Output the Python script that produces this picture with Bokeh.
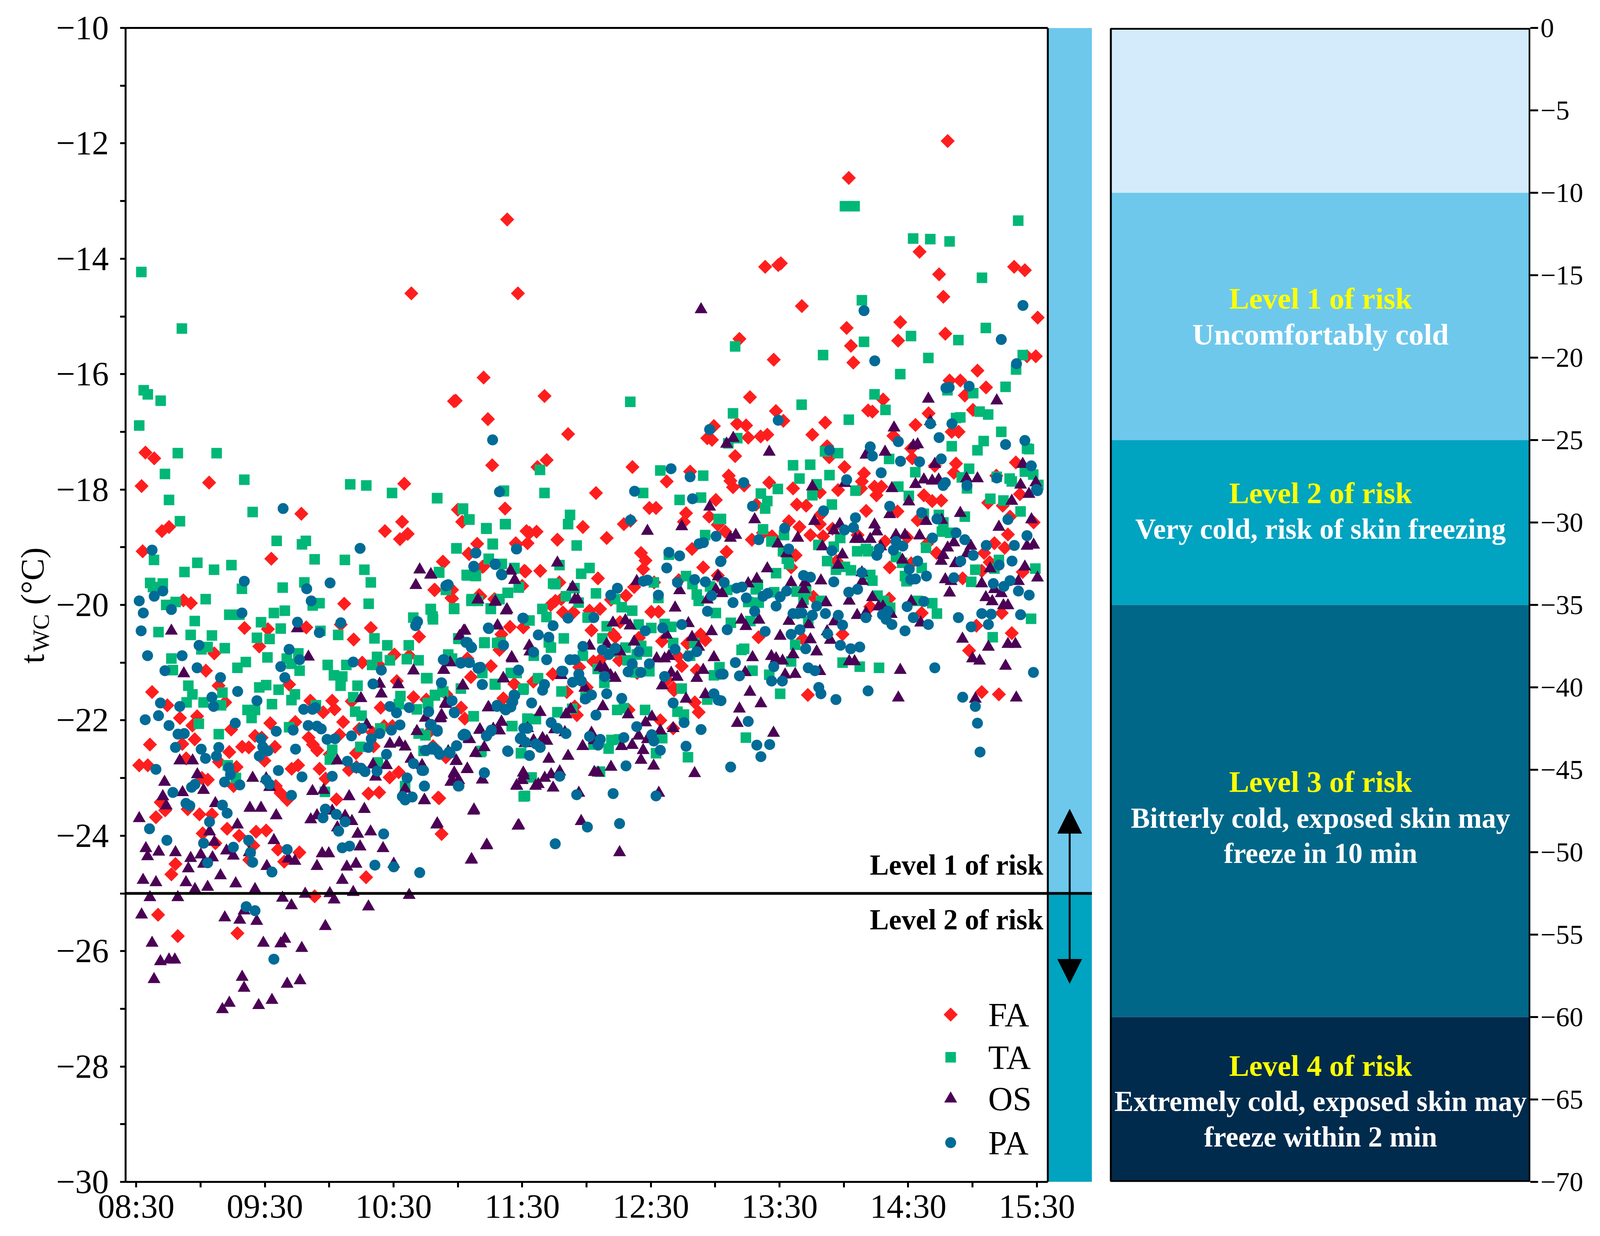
from math import pi
from bokeh.plotting import figure
from bokeh.layouts import row
from bokeh.embed import file_html
from bokeh.resources import INLINE
from bokeh.core.properties import value
from bokeh.models import (ColumnDataSource, FixedTicker, LinearAxis, Range1d, Arrow, NormalHead)

# readings: (minutes after 08:30, wind-chill temperature in deg C)
FA = [(128.3,-14.6),(173,-13.32),(178,-14.6),(162,-16.06),(149,-16.46),(164,-16.78),(166,-17.58),(172,-18.33),(125,-17.9),(77,-18.42),(34,-17.88),(4.3,-17.36),(8.4,-17.46),(2.5,-17.94),(116,-18.72),(124,-18.56),(123,-18.86),(126.6,-18.77),(15.3,-18.65),(12,-18.72),(3,-19.07),(63,-19.2),(150,-18.35),(152,-18.56),(159,-18.94),(155,-19.11),(143,-19.25),(162,-19.33),(177,-18.93),(182,-18.72),(181,-19.41),(139,-19.74),(147,-19.88),(160,-19.83),(167,-19.9),(22,-19.92),(25.5,-19.97),(97,-19.98),
(378.4,-11.96),(332.3,-12.6),(365.3,-13.88),(293.3,-14.14),(299.4,-14.11),(300.6,-14.08),(374.4,-14.27),(409.4,-14.14),(414.4,-14.2),(376.4,-14.66),(310.4,-14.82),(420.4,-15.02),(356.3,-15.1),(331.3,-15.2),(377.3,-15.3),(281.3,-15.39),(355.3,-15.42),(333.3,-15.51),(297.3,-15.75),(334.4,-15.8),(415.4,-15.69),(419.5,-15.69),(392.3,-15.94),(379.3,-16.11),(384.3,-16.11),(396.3,-16.23),(386.4,-16.37),(286.2,-16.4),(348.3,-16.44),(298.3,-16.64),(301.8,-16.81),(341.3,-16.63),(343.3,-16.65),(369.5,-16.68),(390.2,-16.62),(280.2,-16.86),(284.4,-16.89),(321.3,-16.84),(363.4,-16.88),(285.4,-17.1),(291.2,-17.08),(294.3,-17.05),(315.3,-17.05),(353.1,-17.07),(380.3,-17.0),(383.5,-17.0),
(279.3,-17.42),(322.2,-17.25),(323.2,-17.44),(330.3,-17.61),(339.4,-17.72),(338.4,-17.86),(338,-17.98),(344.3,-17.95),(347.5,-17.95),(345.2,-18.1),(276.3,-17.76),(277.1,-17.85),(278.3,-17.96),(283.5,-17.93),(295.2,-17.88),(306.3,-17.98),(327.3,-18.01),(318.8,-18.05),(308.1,-18.26),(312.4,-18.28),(289.1,-18.26),(340.4,-18.37),(355,-18.38),(361.9,-17.46),(361.4,-17.29),(372.4,-17.59),(382.3,-17.55),(381.3,-17.71),(410.2,-17.53),(401.1,-17.76),(367.3,-18.1),(371.2,-18.2),(375.4,-18.19),(412.1,-18.08),(397.3,-18.23),(404.1,-18.28),(407.5,-18.47),(418.5,-18.57),(364.4,-18.53),(304.4,-18.55),(309.3,-18.65),(319.3,-18.43),(318.8,-18.6),(314.4,-18.79),(320.3,-18.81),(324.7,-18.68),(336.4,-18.79),(287.1,-18.87),(292.3,-18.75),(296.5,-18.81),(274.7,-18.73),(307.5,-19.14),(275.3,-19.08),(349.2,-18.9),(359.5,-18.83),(368.8,-18.94),(373.2,-19.1),(400.2,-18.93),(405,-19.01),(406.5,-18.78),(395.4,-19.1),(398,-19.26),(305.4,-19.35),(351.4,-19.35),(361.4,-19.28),(326.6,-19.24),(413.4,-19.43),(394.3,-19.41),(385.4,-19.54),(315.8,-19.86),(351.1,-19.89),(342.3,-20.03),(366.3,-20.14),(403.6,-20.14),(391.8,-20.36),(290.2,-20.56),(310.9,-20.59),(329.4,-20.51),(408.3,-20.49),(388.4,-20.79),(313.2,-21.56),(394.3,-21.51),(402.3,-21.55),
(148.2,-16.47),(201.4,-17.04),(269.4,-16.9),(266.3,-17.11),(268.5,-17.14),(191.4,-17.49),(187.1,-17.61),(231.4,-17.61),(258.3,-17.69),(247.4,-17.86),(214.4,-18.06),(270.3,-18.18),(239.3,-18.32),(242.4,-18.32),(190.4,-16.38),(256.4,-18.41),(267.2,-18.47),(255.4,-18.56),(271.2,-18.61),(208.3,-18.65),(183.4,-18.75),(186.7,-18.73),(227.4,-18.6),(230.5,-18.54),(196.4,-18.87),(219.4,-18.84),(177.4,-18.95),(182.5,-18.93),(259.2,-19.03),(155.2,-19.12),(235.4,-19.1),(237.5,-19.23),(236.4,-19.38),(264.4,-19.35),(143.3,-19.26),(161.4,-19.34),(181.5,-19.42),(188.4,-19.41),(271.2,-19.49),(215.3,-19.54),(253,-19.57),(241.5,-19.61),(197.3,-19.61),(232.2,-19.69),(180,-19.67),(139.3,-19.74),(147.3,-19.74),(228.4,-19.84),(160.5,-19.85),(147.3,-19.89),(167.6,-19.91),(193.3,-20.0),(195.5,-19.93),(198.2,-19.9),(221.4,-19.91),(199,-20.13),(203.9,-20.13),(211.4,-20.1),(216.3,-20.07),(240.2,-20.12),(243.6,-20.12),(225.6,-20.3),(174.3,-20.38),(180.5,-20.39),(212.3,-20.44),(222.5,-20.51),(223.4,-20.56),(170.3,-20.51),(234.4,-20.57),(263.2,-20.51),(265.4,-20.61),(245.2,-20.63),(257,-20.67),(169.4,-20.78),(154.4,-20.93),(165.4,-21.06),(156.1,-21.25),(176.3,-21.37),(185.2,-21.33),(194.2,-21.2),(206.6,-21.08),(213.2,-20.98),(216.3,-20.95),(225.2,-20.96),(252.6,-20.89),(254.4,-21.06),(261.4,-21.13),(233.6,-21.18),(247.7,-21.3),(250.6,-21.44),
(144.6,-21.55),(135.3,-21.64),(171.2,-21.62),(151.5,-21.78),(153.2,-21.97),(200.8,-21.51),(210.1,-21.43),(204.5,-21.76),(205.5,-21.91),(229.6,-21.82),(250.8,-21.48),(260.5,-21.69),(262.3,-21.86),(244.4,-22.0),(250.4,-22.14),(137.1,-22.19),(138.4,-22.45),(144.4,-22.64),(141.3,-23.35),(142.4,-23.97),
(50.5,-20.4),(61.4,-20.42),(79.3,-20.39),(95.4,-20.34),(109.4,-20.4),(101.4,-20.6),(131.9,-20.55),(57.4,-20.72),(36.4,-20.84),(120.4,-20.86),(127.3,-20.88),(32.5,-21.14),(105.4,-21.0),(112.9,-21.03),(121.5,-21.32),(7.4,-21.51),(38.4,-21.4),(71.3,-21.38),(129.3,-21.6),(81.2,-21.66),(91.4,-21.66),(41.5,-21.69),(100.5,-21.67),(14.5,-21.74),(114,-21.78),(92.5,-21.81),(87.2,-21.86),(28.4,-21.93),(20.4,-21.96),(96.5,-22.03),(26.2,-22.09),(62.5,-22.05),(74.2,-22.03),(44.3,-22.16),(55.4,-22.27),(58.5,-22.3),(80.4,-22.3),(94.8,-22.25),(104,-22.15),(115.6,-22.1),(119.5,-22.1),(110.2,-22.21),(6.4,-22.42),(21.5,-22.41),(27.3,-22.33),(82.4,-22.42),(49.4,-22.46),(52.5,-22.47),(43.4,-22.55),(64.7,-22.46),(84.4,-22.52),(90.3,-22.59),(102.5,-22.57),(110.7,-22.45),(23.3,-22.66),(1.4,-22.78),(5.4,-22.78),(38.6,-22.72),(46.8,-22.81),(59.8,-22.7),(72.5,-22.84),(75.5,-22.78),(85.5,-22.84),(99.2,-22.86),(102.7,-22.81),(118.2,-22.99),(122.4,-22.9),(88.3,-23.01),(30.6,-23.0),(33.4,-23.03),(65.1,-23.14),(67.3,-23.26),(70.4,-23.38),(45.4,-23.14),(108.3,-23.27),(113.3,-23.25),(93.4,-23.37),(11.4,-23.42),
(13.5,-23.56),(9.2,-23.68),(24,-23.54),(29.5,-23.63),(35.3,-23.63),(31,-23.96),(42.4,-23.88),(48,-24),(36.9,-24.13),(55.9,-23.93),(60.6,-23.91),(18.3,-24.49),(16.4,-24.67),(54.6,-24.17),(66.1,-24.24),(76.1,-24.29),(52.7,-24.42),(69,-24.45),(107.2,-24.72),(140.8,-23.34),(83.2,-25.05),(10.2,-25.37),(19.4,-25.74),(47.2,-25.69)]

TA = [(2.4,-14.23),(21.3,-15.21),(3.5,-16.28),(5.4,-16.35),(11.4,-16.46),(1.4,-16.89),(19.4,-17.37),(37.5,-17.37),(50.4,-17.83),(13.4,-17.73),(15.3,-18.18),(20.4,-18.55),(54.3,-18.39),(99.8,-17.91),(107.3,-17.93),(119.3,-18.06),(140.3,-18.15),(152.4,-18.33),(155.2,-18.52),(163.2,-18.67),(172,-18.6),(171.5,-18.02),(166.2,-18.94),(65.5,-18.89),(79.1,-18.89),(77.3,-18.95),(83.2,-19.21),(97.3,-19.22),(106.4,-19.39),(109.4,-19.61),(149.4,-19.02),(141.2,-19.43),(164.4,-19.21),(170,-19.29),(176.2,-19.37),(154.1,-19.48),(158.4,-19.49),(8.3,-19.22),(28.5,-19.27),(36.3,-19.39),(44.4,-19.31),(22.5,-19.43),(6.5,-19.62),(12.4,-19.63),(7.8,-19.69),(49.3,-19.72),(68.3,-19.7),(78.4,-19.61),(14,-20),(18.4,-19.95),(32.4,-19.9),(85.5,-19.97),(82.3,-20.01),(108.4,-19.98),(137.3,-20.07),(148.2,-20.06),(156.3,-19.93),(165.3,-20.06),(168.9,-19.9),(173.2,-19.79),(178.4,-19.69),(129.2,-20.22),(138.2,-20.2),
(43.4,-20.17),(48.1,-20.17),(27.3,-20.28),(58.2,-20.3),(64.2,-20.14),(69.3,-20.1),(10.4,-20.47),(25.4,-20.52),(35.3,-20.53),(67.4,-20.41),(85.9,-20.45),(94.2,-20.52),(56.3,-20.57),(62.2,-20.59),(33.3,-20.73),(30.4,-20.77),(41.3,-20.75),(111.1,-20.58),(127.1,-20.7),(117.1,-20.7),(61.2,-20.91),(70.2,-20.93),(75.6,-20.84),(16.4,-20.93),(51.1,-20.99),(47.2,-21.09),(72.4,-21.02),(76.2,-21.14),(17.1,-21.13),(89.3,-21.04),(98,-21.04),(118.3,-20.96),(126.2,-20.94),(110,-21.04),(112.3,-20.9),(131.7,-20.96),(92.2,-21.22),(96.1,-21.24),(135.2,-21.27),(95.3,-21.4),(103.2,-21.4),(24.3,-21.4),(26.2,-21.55),(57.4,-21.43),(60.6,-21.39),(66.4,-21.47),(40.2,-21.52),(74,-21.55),(101.2,-21.6),(123.2,-21.58),(139.3,-21.56),(143.2,-21.5),(31.4,-21.69),(23.5,-21.69),(39.6,-21.74),(63.3,-21.72),(72.4,-21.65),(83.8,-21.74),(122.5,-21.72),(136,-21.7),(51.9,-21.82),(53.8,-21.96),(55.4,-21.82),(102.1,-21.85),(105.1,-21.92),(130.9,-21.81),(29.2,-22.06),(71.3,-22.12),(113.8,-22.14),(157.3,-21.93),(131.7,-22.23),(38.5,-22.24),(104.5,-22.46),(91.4,-22.51),(134,-22.53),(161,-22.53),(90.3,-22.68),(112.7,-22.73),(42.7,-22.78),(46.5,-23),(88,-23.24),(125.4,-23.14),(175.1,-22.1),(180.7,-23.32),(179.5,-22.57),(180.7,-21.45),(167.2,-21.37),(150.2,-20.58),(162.5,-20.65),(169.9,-20.65),
(230.4,-16.48),(244.4,-17.67),(264.4,-17.76),(188.3,-17.66),(236.4,-18.06),(253.4,-18.18),(263.4,-18.14),(140.4,-18.15),(171.3,-18.03),(190.4,-18.06),(152.3,-18.34),(155.4,-18.52),(202.3,-18.44),(201.4,-18.6),(172.3,-18.6),(163.4,-18.68),(271.6,-18.51),(265.3,-18.79),(166.3,-18.95),(205.4,-18.97),(149.3,-19.02),(164.4,-19.2),(248.4,-19.13),(197.4,-19.31),(170.5,-19.29),(176.4,-19.36),(211.4,-19.36),(207.5,-19.46),(256.4,-19.5),(141.3,-19.44),(154.4,-19.49),(158.3,-19.5),(241.4,-19.61),(259.4,-19.64),(267.6,-19.68),(194.4,-19.63),(195.5,-19.64),(204.4,-19.71),(178.4,-19.7),(144.4,-19.74),(173.4,-19.79),(214.4,-19.8),(200.4,-19.85),(223.4,-19.9),(261.4,-19.82),(262.3,-19.93),(243.5,-19.88),(169.4,-19.9),(156.4,-19.9),(159.4,-19.93),(206.3,-19.96),(226.4,-20.04),(231.3,-20.1),(137.4,-20.08),(148.3,-20.07),(165.4,-20.07),(138.4,-20.25),(189.4,-20.07),(191.3,-20.21),(183.4,-20.27),(210.5,-20.22),(270.3,-20.14),(246.4,-20.33),(249.5,-20.38),(234.3,-20.34),(240.2,-20.4),(219.4,-20.37),(150.5,-20.59),(162.3,-20.66),(168.3,-20.66),(199.4,-20.58),(217.4,-20.58),(250.4,-20.66),(235.5,-20.71),(228.2,-20.74),(260.3,-20.66),(238.2,-20.81),(192.4,-20.65),(193.4,-20.74),(145.5,-20.86),(147.3,-20.93),(208.3,-20.88),(233.4,-20.86),(185.4,-20.88),(222.5,-20.81),(229.1,-20.96),(258.3,-20.88),(161.4,-21.18),(135.8,-21.27),(174.7,-21.18),(177.4,-21.18),(215.2,-21.11),(218.3,-21.35),(269.4,-21.22),(232.7,-21.17),(239.3,-21.15),(167.5,-21.38),(187.4,-21.27),(151.4,-21.45),(254.4,-21.45),(272,-21.08),
(142.8,-21.51),(139.3,-21.57),(136.2,-21.72),(180.4,-21.47),(198.3,-21.5),(209.5,-21.6),(266.3,-21.64),(196.4,-21.86),(203.3,-21.8),(224.3,-21.82),(227.4,-21.79),(237.3,-21.82),(157.4,-21.93),(182.4,-21.97),(186.4,-21.98),(252.4,-21.85),(255.4,-21.9),(175.4,-22.1),(221.6,-22.34),(225.2,-22.33),(245.3,-22.31),(220.3,-22.49),(213.2,-22.42),(160.5,-22.55),(179.4,-22.57),(242.4,-22.57),(257.3,-22.64),(216.3,-22.89),(184.4,-22.99),(181.3,-23.31),(134.9,-22.26),
(330.5,-13.09),(335,-13.09),(411.3,-13.34),(362.3,-13.65),(370.3,-13.66),(379.3,-13.7),(394.4,-14.33),(338.4,-14.72),(396.2,-15.2),(361.3,-15.34),(383.4,-15.41),(339.4,-15.44),(279.3,-15.52),(320.3,-15.67),(369.4,-15.72),(413.4,-15.67),(356.3,-16),(410.3,-15.92),(405.4,-16.22),(344.3,-16.35),(378.3,-16.28),(390.3,-16.33),(310.3,-16.53),(278.3,-16.68),(349.4,-16.62),(393.3,-16.65),(397.3,-16.7),(382.3,-16.76),(384.3,-16.75),(332.3,-16.79),(403.4,-17),
(276.1,-17.2),(280.3,-17.11),(380.3,-17.25),(395.2,-17.16),(392.3,-17.32),(415.4,-17.29),(416.3,-17.3),(321.2,-17.34),(327.3,-17.37),(351.1,-17.47),(306.3,-17.58),(314.3,-17.57),(388.4,-17.64),(363.3,-17.7),(323.3,-17.75),(309.3,-17.81),(385,-17.79),(414.4,-17.69),(418.3,-17.74),(401.3,-17.78),(317.3,-17.91),(355.4,-17.95),(407.3,-17.81),(408.3,-17.86),(420.7,-17.92),(299.2,-17.99),(335.4,-18.02),(291.3,-18.07),(315.3,-18.1),(387.4,-17.98),(360.3,-18.11),(294.3,-18.2),(324.4,-18.26),(398.3,-18.16),(404.4,-18.19),(293.3,-18.33),(412.4,-18.38),(367.3,-18.42),(374.3,-18.44),(386.4,-18.47),(272.7,-18.51),(376.4,-18.57),(292.3,-18.69),(375.7,-18.73),(379.6,-18.75),(302.1,-18.79),(328.3,-18.84),(296.2,-18.9),(318.1,-18.96),(325.3,-18.99),(368.3,-19.01),(340.3,-19.03),(336.2,-19.07),(341.3,-19.07),(354.3,-19.17),(301.6,-19.07),(303.4,-19.2),(304.4,-19.29),(322.2,-19.24),(366.3,-19.36),(330.5,-19.34),(333.3,-19.4),(402.3,-19.22),(326.3,-19.39),(391.3,-19.39),(357.2,-19.27),(419.3,-19.37),(400.2,-19.37),(298.4,-19.45),(342.3,-19.48),(358.5,-19.5),(343.3,-19.58),(359.2,-19.59),(389.4,-19.6),(275.6,-19.74),(288.9,-19.73),(289.9,-19.65),(297.5,-19.78),(308,-19.77),(312.4,-19.76),(345.7,-19.84),(311.2,-19.91),(319.3,-19.93),(348.7,-19.93),(364.4,-19.93),(371.2,-19.97),(285.4,-19.95),(290.3,-19.96),(351.6,-20.05),(373.4,-20.15),(277.3,-20.31),(286.4,-20.28),(417.3,-20.24),(313.4,-20.29),(283.5,-20.76),(282.3,-20.78),(399.4,-20.56),(307.3,-20.69),(305.4,-20.98),(329.4,-21.0),(337.4,-21.07),(346.4,-21.09),(287.4,-21.14),(295.2,-21.21),(300.3,-21.54),(284.3,-22.3)]

OS = [(16.4,-20.45),(22.2,-21.19),(80.3,-20.9),(75.1,-20.41),(113.5,-21.37),(114.3,-21.54),(122.2,-21.38),(129.3,-21.14),(104.8,-21.62),(143.5,-21.13),(152.2,-21.4),(152.7,-20.45),(168.5,-20.36),(175.1,-20.91),(171.2,-21.27),(144.3,-21.7),(142,-21.96),(164.1,-21.78),(134.8,-21.96),(170.4,-22.03),(107.5,-22.08),(160.1,-22.17),(130.9,-22.19),(168.8,-22.17),(118.3,-22.41),(122.7,-22.39),(125.4,-22.46),(155.1,-22.32),(158.2,-22.57),(93.8,-22.7),(110.4,-22.77),(116.7,-22.78),(128.1,-22.67),(149.1,-22.71),(154.3,-22.85),(133.3,-22.78),(20.3,-22.7),(26.3,-22.7),(28.5,-22.94),(54.3,-23),(13.2,-23.07),(60.6,-23.01),(62.2,-23.16),(148.3,-22.93),(161.4,-23.03),(180.7,-22.96),(146.7,-23.07),(111.6,-22.98),(21.6,-23.25),(31.4,-23.21),(12.4,-23.32),(14,-23.48),(82.2,-23.23),(87.4,-23.21),(125.4,-23.19),(99.3,-23.32),(134.4,-23.39),(177.5,-23.14),(36.9,-23.44),(53,-23.52),(58.2,-23.52),(106.4,-23.54),(91.4,-23.57),(157.3,-23.57),(65.3,-23.65),(1.4,-23.7),(81.4,-23.72),(84.3,-23.65),(97.4,-23.66),(100.6,-23.75),(93.8,-23.86),(47.2,-23.81),(34.2,-23.93),(140.1,-23.81),(178,-23.83),(103.3,-23.97),(109.3,-23.93),(64.2,-24.08),(163.3,-24.17),(36.4,-24.11),(4.5,-24.22),(10.5,-24.28),(18.3,-24.29),(5.3,-24.36),(104.4,-24.19),(115.1,-24.22),(86.7,-24.31),(89.8,-24.31),(42.1,-24.26),(45.3,-24.35),(30.1,-24.33),(35.6,-24.38),(25.4,-24.39),(52.7,-24.29),(70.9,-24.4),(74,-24.44),(156.2,-24.42),(24.3,-24.57),(120.1,-24.49),(31.4,-24.49),(84.3,-24.53),(98.2,-24.54),(102.5,-24.49),(60.9,-24.53),(39.3,-24.69),(3.2,-24.77),(9.2,-24.81),(46.4,-24.83),(23.2,-24.81),(96.1,-24.77),(33.3,-24.89),(27.4,-24.93),(55.4,-24.93),(6.4,-25.07),(19.4,-25.07),(78.8,-25.01),(90.3,-25),(101.2,-24.98),(68.2,-25.08),(92.3,-25.11),(127.3,-25.03),(2.5,-25.37),(72.4,-25.21),(108.3,-25.23),(50.3,-25.3),(41.3,-25.42),(48.3,-25.46),(56.2,-25.48),(88.2,-25.57),(7.4,-25.86),(59.3,-25.86),(69.3,-25.79),(67.4,-25.87),(77.2,-25.95),(11.3,-26.18),(15.3,-26.15),(18,-26.15),(8.3,-26.49),(49.4,-26.45),(70.4,-26.57),(76.4,-26.51),(50.3,-26.64),(63.3,-26.85),(43.4,-26.9),(57.1,-26.94),(40.2,-27.01),
(132.2,-19.39),(137.3,-19.48),(130.4,-19.66),(159.3,-19.91),(167.3,-19.95),(174.6,-19.41),(176.5,-19.57),(172.9,-20.08),
(137.4,-19.47),(196.4,-19.27),(174.5,-19.41),(176.5,-19.57),(203.5,-19.69),(267.4,-18.3),(254.4,-18.64),(238.4,-18.72),(233.4,-19.59),(271.4,-19.51),(253.4,-19.75),(270.3,-19.74),(266.3,-19.91),(159.4,-19.91),(167.5,-19.94),(172.5,-20.1),(204.5,-19.91),(205.9,-19.91),(251.3,-20.05),(222.3,-20.31),(228.1,-20.27),(230.3,-20.36),(257.5,-20.32),(268.3,-20.46),(168.5,-20.36),(153.3,-20.45),(150.8,-20.54),(247.3,-20.52),(259.2,-20.56),(219.4,-20.68),(232.2,-20.64),(211.4,-20.71),(183.3,-20.71),(262.3,-20.73),(183.6,-20.81),(225.6,-20.81),(175.4,-20.93),(146.4,-21),(269.4,-20.91),(242.7,-20.93),(246.4,-20.93),(248.4,-20.89),(143.3,-21.13),(249.5,-21.18),(264.4,-21.13),(216.3,-21.08),(218.5,-21.1),(221.2,-21.22),(223.4,-21.27),(252.3,-21.25),(198.2,-21.22),(171.3,-21.28),(261.4,-21.27),(152.4,-21.4),(209.2,-21.44),(245.3,-21.4),
(164.4,-21.78),(144.2,-21.72),(202.6,-21.81),(200.4,-21.9),(188.4,-21.86),(217.6,-21.76),(229.4,-21.9),(256.4,-21.63),(265.4,-21.55),(142.4,-21.91),(141.5,-21.97),(237.5,-22.04),(240.5,-21.94),(170.3,-22.03),(160.3,-22.16),(166.5,-22.15),(169.4,-22.18),(182.5,-22.14),(212.3,-22.22),(195.1,-22.16),(199.9,-22.21),(244.4,-22.18),(250.4,-22.14),(234.3,-22.27),(238.4,-22.33),(155.5,-22.33),(189.5,-22.31),(191.5,-22.36),(185.3,-22.35),(162.3,-22.47),(158.3,-22.57),(145.5,-22.54),(181.3,-22.4),(208.2,-22.45),(226.3,-22.45),(231.3,-22.43),(236.4,-22.52),(213.6,-22.35),(192.4,-22.67),(201.4,-22.62),(235.4,-22.69),(149.3,-22.7),(154.4,-22.84),(221.4,-22.81),(241.3,-22.79),(148.3,-22.91),(213.6,-22.9),(215.4,-22.91),(180.5,-22.91),(197.5,-22.89),(260.4,-22.92),(193.5,-22.94),(190.5,-23),(150.4,-23.04),(147.3,-23.04),(161.4,-23.03),(180,-23.04),(177.4,-23.13),(187.5,-23.11),(186.2,-23.14),(194.4,-23.17),(206.4,-23.26),(243.7,-23.26),(134.4,-23.38),(157.5,-23.55),(140.4,-23.79),(178.4,-23.82),(207.5,-23.75),(163.5,-24.16),(156.4,-24.41),(225.4,-24.29),
(263.4,-14.88),(369.4,-16.43),(401.3,-16.46),(278.4,-17.11),(275.3,-17.21),(295.2,-17.35),(353.4,-16.93),(370.3,-16.82),(362.4,-17.24),(364.4,-17.22),(349.2,-17.35),(340.3,-17.4),(372.4,-17.56),(413.4,-17.56),(330.4,-17.89),(315.3,-17.95),(367.3,-17.83),(371.2,-17.85),(374.2,-17.83),(363.4,-17.91),(387.2,-17.81),(392.3,-17.81),(352.4,-17.98),(412.4,-17.92),(419.5,-17.88),(416.3,-18.08),(360.3,-18.21),(408.3,-18.2),(384.3,-18.41),(288.4,-18.52),(316.3,-18.55),(351.4,-18.43),(368.3,-18.55),(375.6,-18.53),(417.5,-18.52),(402.3,-18.65),(344.3,-18.61),(328.1,-18.6),(325.3,-18.71),(279.6,-18.79),(277.1,-18.84),(308.5,-18.84),(345.4,-18.73),(335.4,-18.86),(337.4,-18.86),(342.3,-18.86),(354.3,-18.79),(358.5,-18.79),(365.3,-18.8),(299.2,-18.94),(320,-18.99),(378.4,-19.01),(381.3,-18.92),(389.2,-18.98),(415.4,-18.98),(418.5,-18.96),(329.3,-19.13),(303.3,-19.11),(347.2,-18.99),(357.3,-19.22),(376.3,-19.14),(375.4,-19.24),(387.4,-19.11),(382,-19.28),(327.3,-19.31),(294.3,-19.37),(398.2,-19.37),(414.4,-19.34),(289.4,-19.55),(285.4,-19.63),(338.4,-19.44),(338.6,-19.59),(305.4,-19.61),(311.9,-19.61),(319.3,-19.58),(377.3,-19.56),(380,-19.59),(394.3,-19.63),(411.4,-19.59),(420.3,-19.53),(311.4,-19.73),(400.2,-19.73),(403.4,-19.8),(273.2,-19.8),(379.3,-19.79),(396.2,-19.87),(343.3,-19.87),(399.2,-19.94),(332.5,-19.93),(321.7,-19.96),(310.5,-19.99),(361.4,-19.94),(348.2,-20.03),(346.2,-20.03),(404.4,-20.01),(406.5,-20.01),(340.3,-20.14),(352.1,-20.16),(336.2,-20.18),(325.6,-20.29),(304.4,-20.28),(282.2,-20.26),(290.4,-20.26),(313.6,-20.34),(365.8,-20.31),(284.3,-20.37),(300.3,-20.54),(314.4,-20.6),(322.2,-20.46),(323.7,-20.61),(385.3,-20.59),(397.4,-20.73),(406.5,-20.68),(410,-20.68),(317.3,-20.81),(306.3,-20.86),(287.4,-20.91),(296.2,-20.89),(298.4,-20.93),(301.4,-20.97),(390,-20.93),(393.3,-20.97),(332.5,-20.98),(335,-20.98),(405.4,-21.06),(356.3,-21.13),(318.8,-21.15),(307.3,-21.2),(284,-21.17),(302.6,-21.21),(286.2,-21.51),(355.4,-21.61),(391.3,-21.63),(410.4,-21.61),(291.3,-21.71),(281.3,-21.8),(280.3,-22.05),(297.2,-22.22)]

PA = [(68.5,-18.33),(104.4,-19.02),(166.2,-17.14),(169.4,-18.04),(7.4,-19.05),(177.3,-19.03),(158.4,-19.1),(157.4,-19.33),(167.4,-19.29),(170.3,-19.47),(50.4,-19.59),(90.4,-19.62),(79.5,-19.72),(81.6,-19.93),(144.8,-19.66),(1.4,-19.93),(8.4,-19.85),(12.4,-19.76),(3.3,-20.14),(16.4,-20.08),(49.3,-20.14),(75.2,-20.3),(95.4,-20.31),
(2.3,-20.45),(85.4,-20.48),(131.2,-20.29),(130.3,-20.36),(164.2,-20.4),(180.3,-20.23),(29.3,-20.7),(71.3,-20.77),(153.8,-20.65),(156.2,-20.73),(171.2,-20.7),(5.3,-20.88),(21.4,-20.88),(76.2,-20.95),(67.4,-21.07),(28.4,-21.09),(13.4,-21.14),(101.2,-20.99),(143.2,-20.95),(151.4,-21),(155.4,-21),(114.3,-21.13),(159.6,-21.09),(178.3,-21.13),(39.3,-21.26),(69.3,-21.26),(110.4,-21.37),(142.3,-21.35),(161.4,-21.38),(47.3,-21.5),(35.3,-21.6),(56.3,-21.66),(11.3,-21.7),(36.1,-21.76),(20.3,-21.76),(78.1,-21.81),(82.2,-21.81),(83.5,-21.78),(118.3,-21.76),(127.3,-21.78),(136.3,-21.85),(121.4,-21.87),(147.2,-21.66),(148.3,-21.86),(168.3,-21.74),(172,-21.81),(175.1,-21.7),(176.2,-21.56),(10.4,-21.92),(4.2,-21.99),(46.2,-22.05),(15.3,-22.09),(137.2,-22.08),(80.2,-22.09),(84.3,-22.1),(86.3,-22.15),(105.3,-22.14),(65.3,-22.19),(73.2,-22.17),(123,-22.08),(119,-22.17),(113.5,-22.23),(140.4,-22.17),(153,-22.24),(165.6,-22.17),(19.5,-22.24),(22.4,-22.23),(100.4,-22.27),(109.6,-22.32),(163.3,-22.27),(58.2,-22.32),(89,-22.33),(92.7,-22.32),(179.1,-22.32),(180.7,-22.14),(149.4,-22.44),(108.3,-22.47),(18.3,-22.47),(30.3,-22.5),(38.5,-22.47),(59,-22.46),(61.4,-22.53),(74.3,-22.5),(134.8,-22.52),(138,-22.5),(140.4,-22.53),(145.9,-22.55),(173.2,-22.53),(116.7,-22.59),(32.3,-22.66),(37.4,-22.62),(57.4,-22.62),(98.5,-22.71),(129.3,-22.75),(43.2,-22.82),(9.2,-22.85),(102.5,-22.82),(104.8,-22.83),(106.7,-22.89),(112.3,-22.88),(66.3,-22.87),(133.3,-22.87),(44,-22.94),(162.3,-22.91),(77.3,-22.98),(91.4,-22.97),(126.3,-23),(60.6,-23.03),(41.2,-23.07),(48.3,-23.12),(62.2,-23.11),(134.4,-23.14),(150.2,-23.14),(27.4,-23.11),(25.8,-23.16),(17.1,-23.25),(72.4,-23.3),(124.1,-23.32),(125.4,-23.38),(128.7,-23.33),(23.2,-23.44),(25,-23.48),(40.2,-23.47),(42.4,-23.61),(88.2,-23.54),(87.1,-23.69),(93.3,-23.63),(97.4,-23.76),(34.2,-23.76),(6.2,-23.88),(94.4,-23.92),(115.4,-23.97),(14.3,-24.08),(52.4,-24.08),(31.4,-24.13),(45.3,-24.2),(96.1,-24.21),(99.5,-24.18),(70.4,-24.24),(53.3,-24.29),(54.3,-24.46),(33.3,-24.47),(111.3,-24.51),(120.1,-24.54),(63.3,-24.63),(132.2,-24.64),(51.3,-25.23),(55.4,-25.3),(64.2,-26.14),
(267.4,-16.96),(249.4,-17.64),(258.3,-17.78),(232.4,-18.03),(259.4,-18.16),(230.5,-18.53),(262.5,-18.94),(264.5,-18.92),(270.4,-18.81),(158.3,-19.1),(177.4,-19.03),(248.4,-19.09),(253.4,-19.15),(272.5,-19.25),(157.5,-19.34),(167.4,-19.3),(247.4,-19.36),(170.5,-19.48),(144.4,-19.67),(145.5,-19.65),(224.4,-19.71),(236.5,-19.59),(238.4,-19.57),(252.4,-19.61),(260.4,-19.56),(265.4,-19.6),(268.3,-19.84),(221.3,-19.83),(243.5,-19.83),(266.4,-20.11),(201.4,-20.23),(213.4,-20.22),(180.5,-20.23),(254.4,-20.34),(245.5,-20.4),(237.4,-20.45),(164.4,-20.41),(194.4,-20.36),(187.5,-20.52),(192.4,-20.56),(154.4,-20.65),(156.4,-20.74),(171.3,-20.7),(208.3,-20.72),(223.4,-20.75),(217.4,-20.78),(220.3,-20.86),(234.4,-20.81),(251.3,-20.77),(261.4,-20.81),(257.4,-20.89),(185.3,-20.82),(143.5,-20.95),(191.4,-20.95),(202.3,-20.95),(204.5,-20.95),(151.4,-21.01),(155.2,-21),(239.3,-21.02),(231.3,-21.02),(159.4,-21.1),(160.5,-21.08),(178.2,-21.13),(199,-21.15),(198.4,-21.15),(229.4,-21.16),(235.3,-21.17),(246.4,-21.24),(206.4,-21.2),(218.4,-21.24),(272.5,-21.2),(142.4,-21.35),(161.4,-21.38),(190.4,-21.38),(203.5,-21.34),(207.6,-21.32),(189.5,-21.48),
(212.3,-21.56),(209.4,-21.63),(219.4,-21.54),(226.4,-21.62),(176.5,-21.57),(175.6,-21.68),(174.7,-21.77),(172.3,-21.82),(168.3,-21.76),(184.4,-21.7),(147.3,-21.66),(250.4,-21.7),(269.4,-21.54),(271.4,-21.65),(136.4,-21.85),(148.4,-21.87),(214.4,-21.91),(193.5,-22.04),(196.4,-22.14),(200.4,-22.23),(182.5,-22.14),(255.5,-22.04),(233.4,-22.11),(137.5,-22.07),(140.4,-22.19),(263.4,-22.16),(165.4,-22.19),(163.4,-22.27),(152.4,-22.26),(153.6,-22.25),(240.4,-22.25),(241.4,-22.36),(211.4,-22.28),(216.4,-22.33),(215.4,-22.43),(227.4,-22.3),(179.5,-22.3),(181.5,-22.38),(186.4,-22.41),(188.4,-22.47),(149.4,-22.44),(256.4,-22.45),(244.4,-22.52),(173.4,-22.54),(138.4,-22.47),(135.3,-22.52),(141.5,-22.59),(146.4,-22.57),(183.4,-22.61),(228.4,-22.79),(162.4,-22.91),(197.5,-22.97),(134,-22.87),(205.4,-23.29),(150.5,-23.14),(134.4,-23.14),(222.4,-23.27),(242.4,-23.31),(210.4,-23.85),(225.4,-23.79),(195.4,-24.14),
(413.5,-14.81),(339.4,-14.9),(403.4,-15.4),(344.4,-15.77),(410.5,-15.82),(379.1,-16.23),(377.6,-16.24),(388.4,-16.21),(299.4,-16.8),(370.4,-16.86),(380.4,-16.86),(374.4,-17.1),
(355.4,-17.17),(342.3,-17.26),(343.3,-17.42),(323.3,-17.32),(405.4,-17.22),(414.4,-17.15),(356.4,-17.51),(365.3,-17.52),(375.4,-17.47),(417.4,-17.59),(347.4,-17.71),(331.3,-17.83),(283.3,-17.88),(401.3,-17.8),(377.3,-17.88),(376.3,-17.93),(387.4,-17.93),(419.8,-18),(420.3,-18.02),(287.4,-18.29),(320.5,-18.37),(351.4,-18.29),(366.3,-18.4),(373.4,-18.51),(335.4,-18.49),(334.5,-18.66),(302.4,-18.67),(330.3,-18.7),(406.5,-18.52),(415.4,-18.8),(382.3,-18.75),(386.4,-18.87),(290.3,-18.87),(371.3,-18.84),(354.3,-18.9),(357.5,-18.98),(353.1,-19.05),(346.4,-19.03),(345.4,-19.14),(396.4,-18.97),(409.5,-18.97),(304.3,-19.03),(324.4,-19.06),(390.3,-19.14),(272.7,-19.24),(384.5,-19.24),(408.4,-19.24),(364.4,-19.24),(360.5,-19.38),(402.4,-19.31),(338.4,-19.44),(311.2,-19.49),(314.4,-19.52),(368.5,-19.5),(381.3,-19.53),(363.4,-19.55),(361.2,-19.56),(274.2,-19.61),(325.3,-19.6),(399.7,-19.63),(407.5,-19.58),(404.6,-19.68),(282.5,-19.69),(280,-19.71),(303.3,-19.76),(336.4,-19.73),(332.3,-19.78),(411.4,-19.76),(294.5,-19.8),(292.3,-19.85),(416.4,-19.83),(300.3,-19.86),(284.5,-19.88),(278.3,-19.96),(367.3,-19.94),(298.4,-20.02),(359.5,-20.03),(317.3,-20.02),(350.4,-20.11),(288.4,-20.11),(310.4,-20.14),(306.3,-20.15),(308.5,-20.15),(321.4,-20.15),(315.3,-20.18),(327.4,-20.18),(394.3,-20.15),(398.7,-20.16),(412.4,-20.17),(340.3,-20.22),(348,-20.17),(349.7,-20.25),(362.4,-20.22),(383.4,-20.22),(352.4,-20.34),(329.4,-20.35),(369.4,-20.34),(397.4,-20.34),(389.4,-20.38),(358.5,-20.45),(293.3,-20.46),(275.6,-20.43),(309.5,-20.43),(305.4,-20.51),(322.4,-20.5),(312.2,-20.76),(328.4,-20.7),(333.2,-20.76),(337.4,-20.73),(279.4,-21),(297.3,-21.07),(313.4,-21.09),(316.5,-21.14),(372.4,-21.09),(418.4,-21.17),(273.7,-21.2),(281.3,-21.23),(296.3,-21.32),(301.3,-21.32),(318.3,-21.43),(319.3,-21.54),(341.3,-21.49),(326.3,-21.64),(385.4,-21.6),(391.3,-21.76),(272.7,-21.66),(285.4,-22.02),(392.3,-22.05),(393.5,-22.55),(277.2,-22.81),(291.3,-22.63),(289.4,-22.43),(295.4,-22.42)]

TIME_LABELS = ["08:30","09:30","10:30","11:30","12:30","13:30","14:30","15:30"]
LEFT_TICKS = [-30,-28,-26,-24,-22,-20,-18,-16,-14,-12,-10]
RIGHT_TICKS = [-70,-65,-60,-55,-50,-45,-40,-35,-30,-25,-20,-15,-10,-5,0]
RISK_BOUNDS = [0,-10,-25,-35,-60,-70]
RISK_COLORS = ["#D4EBFB","#6EC8EC","#00A3C0","#006788","#002B4D"]
RISK_HEAD = [("Level 1 of risk",-16.42,"#FFFF00"),("Uncomfortably cold",-18.6,"#FFFFFF"),
             ("Level 2 of risk",-28.2,"#FFFF00"),("Level 3 of risk",-45.73,"#FFFF00"),("Level 4 of risk",-62.96,"#FFFF00")]
RISK_BODY = [("Very cold, risk of skin freezing",-30.4),("Bitterly cold, exposed skin may",-47.93),("freeze in 10 min",-50.06),
             ("Extremely cold, exposed skin may",-65.12),("freeze within 2 min",-67.27)]
LEGEND = [("FA",-27.1),("TA",-27.84),("OS",-28.56),("PA",-29.32)]

SERIF = "Liberation Serif"
LABEL_W = 130
XLO, XHI, BAND_LO, BAND_HI, PANEL_LO, PANEL_HI = -4.956, 425.1, 425.3, 445.66, 454.5, 650.09

lab = figure(width=LABEL_W, height=3148, output_backend="svg", toolbar_location=None,
             x_range=Range1d(0, LABEL_W), y_range=Range1d(0, 3148), x_axis_type=None, y_axis_type=None,
             min_border_left=0, min_border_right=0, min_border_top=0, min_border_bottom=0,
             outline_line_color=None, background_fill_color="white", border_fill_color="white")
lab.grid.visible = False
for txt, xv, yv, size in [("t", 82, 1414, 88), ("WC", 104, 1446, 60), ("(\u00b0C)", 82, 1574, 85)]:
    lab.text(x=[xv], y=[yv], text=[txt], angle=pi/2, text_font=value(SERIF), text_font_size=f"{size}px",
             text_align="left", text_baseline="alphabetic", text_color="black")

p = figure(width=4084-LABEL_W, height=3148, output_backend="svg", toolbar_location=None,
           x_range=Range1d(XLO, PANEL_HI), y_range=Range1d(-30, -10), x_axis_type=None, y_axis_type=None,
           min_border_left=191, min_border_right=167, min_border_top=71, min_border_bottom=123,
           outline_line_color=None, background_fill_color="white", border_fill_color="white")
p.extra_y_ranges = {"risk": Range1d(-70, 0)}
p.grid.visible = False

def style_axis(ax):
    ax.axis_line_color = "black"; ax.axis_line_width = 5
    ax.major_tick_line_color = "black"; ax.major_tick_line_width = 5
    ax.minor_tick_line_color = "black"; ax.minor_tick_line_width = 5
    ax.major_tick_in = 0; ax.minor_tick_in = 0
    ax.major_label_text_font = SERIF; ax.major_label_text_color = "black"

yax = LinearAxis(ticker=FixedTicker(ticks=LEFT_TICKS, minor_ticks=[t+1 for t in LEFT_TICKS[:-1]]),
                 major_label_overrides={t: "\u2212" + str(abs(t)) for t in LEFT_TICKS})
style_axis(yax); yax.major_tick_out = 14; yax.minor_tick_out = 14
yax.major_label_text_font_size = "86px"; yax.major_label_standoff = 29
p.add_layout(yax, "left")

xt = [60*i for i in range(len(TIME_LABELS))]
xax = LinearAxis(ticker=FixedTicker(ticks=xt, minor_ticks=[t+30 for t in xt[:-1]]),
                 major_label_overrides=dict(zip(xt, TIME_LABELS)), bounds=(XLO, XHI))
style_axis(xax); xax.major_tick_out = 14; xax.minor_tick_out = 14
xax.major_label_text_font_size = "86px"; xax.major_label_standoff = 0
p.add_layout(xax, "below")

top = LinearAxis(ticker=FixedTicker(ticks=[]), bounds=(XLO, XHI), major_label_text_font_size="0px")
style_axis(top); top.major_tick_line_color = None; top.minor_tick_line_color = None
p.add_layout(top, "above")

rax = LinearAxis(y_range_name="risk", ticker=FixedTicker(ticks=RIGHT_TICKS),
                 major_label_overrides={t: ("\u2212" + str(abs(t))) if t else "0" for t in RIGHT_TICKS})
style_axis(rax); rax.axis_line_color = None; rax.major_tick_out = 20; rax.minor_tick_out = 0
rax.minor_tick_line_color = None; rax.major_label_text_font_size = "70px"; rax.major_label_standoff = 6
p.add_layout(rax, "right")

p.quad(left=BAND_LO, right=BAND_HI, top=-10, bottom=-25, fill_color=RISK_COLORS[1], line_color=None)
p.quad(left=BAND_LO, right=BAND_HI, top=-25, bottom=-30, fill_color=RISK_COLORS[2], line_color=None)
p.segment(x0=[XHI], x1=[XHI], y0=[-10], y1=[-30], line_color="black", line_width=5)

p.quad(left=PANEL_LO, right=PANEL_HI, top=RISK_BOUNDS[:-1], bottom=RISK_BOUNDS[1:], fill_color=RISK_COLORS,
       line_color=None, y_range_name="risk")
p.quad(left=PANEL_LO, right=PANEL_HI-0.3, top=-0.05, bottom=-69.95, fill_color=None, line_color="black", line_width=5,
       y_range_name="risk")
XC = (PANEL_LO+PANEL_HI)/2
p.text(x=XC, y=[r[1] for r in RISK_HEAD], text=[r[0] for r in RISK_HEAD], text_color=[r[2] for r in RISK_HEAD],
       text_font=value(SERIF), text_font_style="bold", text_font_size="77px", text_align="center", text_baseline="middle",
       y_range_name="risk")
p.text(x=XC, y=[r[1] for r in RISK_BODY], text=[r[0] for r in RISK_BODY], text_color="#FFFFFF",
       text_font=value(SERIF), text_font_style="bold", text_font_size="73px", text_align="center", text_baseline="middle",
       y_range_name="risk")

def src(rows):
    return ColumnDataSource(dict(t=[r[0] for r in rows], v=[r[1] for r in rows]))

MARK = {"FA": dict(marker="square", size=25.5, angle=pi/4, fill_color="#FF1E1E", line_color=None),
        "TA": dict(marker="square", size=27, fill_color="#00B777", line_color=None),
        "OS": dict(marker="triangle", size=33, fill_color="#4B0055", line_color=None),
        "PA": dict(marker="circle", size=28, fill_color="#006B96", line_color=None)}
p.scatter("t", "v", source=src(FA), **MARK["FA"])
p.scatter("t", "v", source=src(TA), **MARK["TA"])
p.scatter("t", "v", source=src(OS), **MARK["OS"])
p.scatter("t", "v", source=src(PA), **MARK["PA"])

for name, yv in LEGEND:
    p.scatter(x=[379.8], y=[yv], **MARK[name])
p.text(x=397.3, y=[l[1] for l in LEGEND], text=[l[0] for l in LEGEND], text_font=value(SERIF), text_font_size="87px",
       text_align="left", text_baseline="middle", text_color="black")

p.segment(x0=[XLO], x1=[BAND_HI], y0=[-25], y1=[-25], line_color="black", line_width=7)
p.add_layout(Arrow(x_start=435.3, x_end=435.3, y_start=-25, y_end=-23.54, line_color="black", line_width=5,
                   end=NormalHead(size=62, fill_color="black", line_color="black")))
p.add_layout(Arrow(x_start=435.3, x_end=435.3, y_start=-25, y_end=-26.56, line_color="black", line_width=5,
                   end=NormalHead(size=62, fill_color="black", line_color="black")))

p.text(x=[423, 423], y=[-24.51, -25.46], text=["Level 1 of risk", "Level 2 of risk"], text_font=value(SERIF),
       text_font_style="bold", text_font_size="73px", text_align="right", text_baseline="middle", text_color="black")

open("out.html", "w").write(file_html(row(lab, p, spacing=0), INLINE))
